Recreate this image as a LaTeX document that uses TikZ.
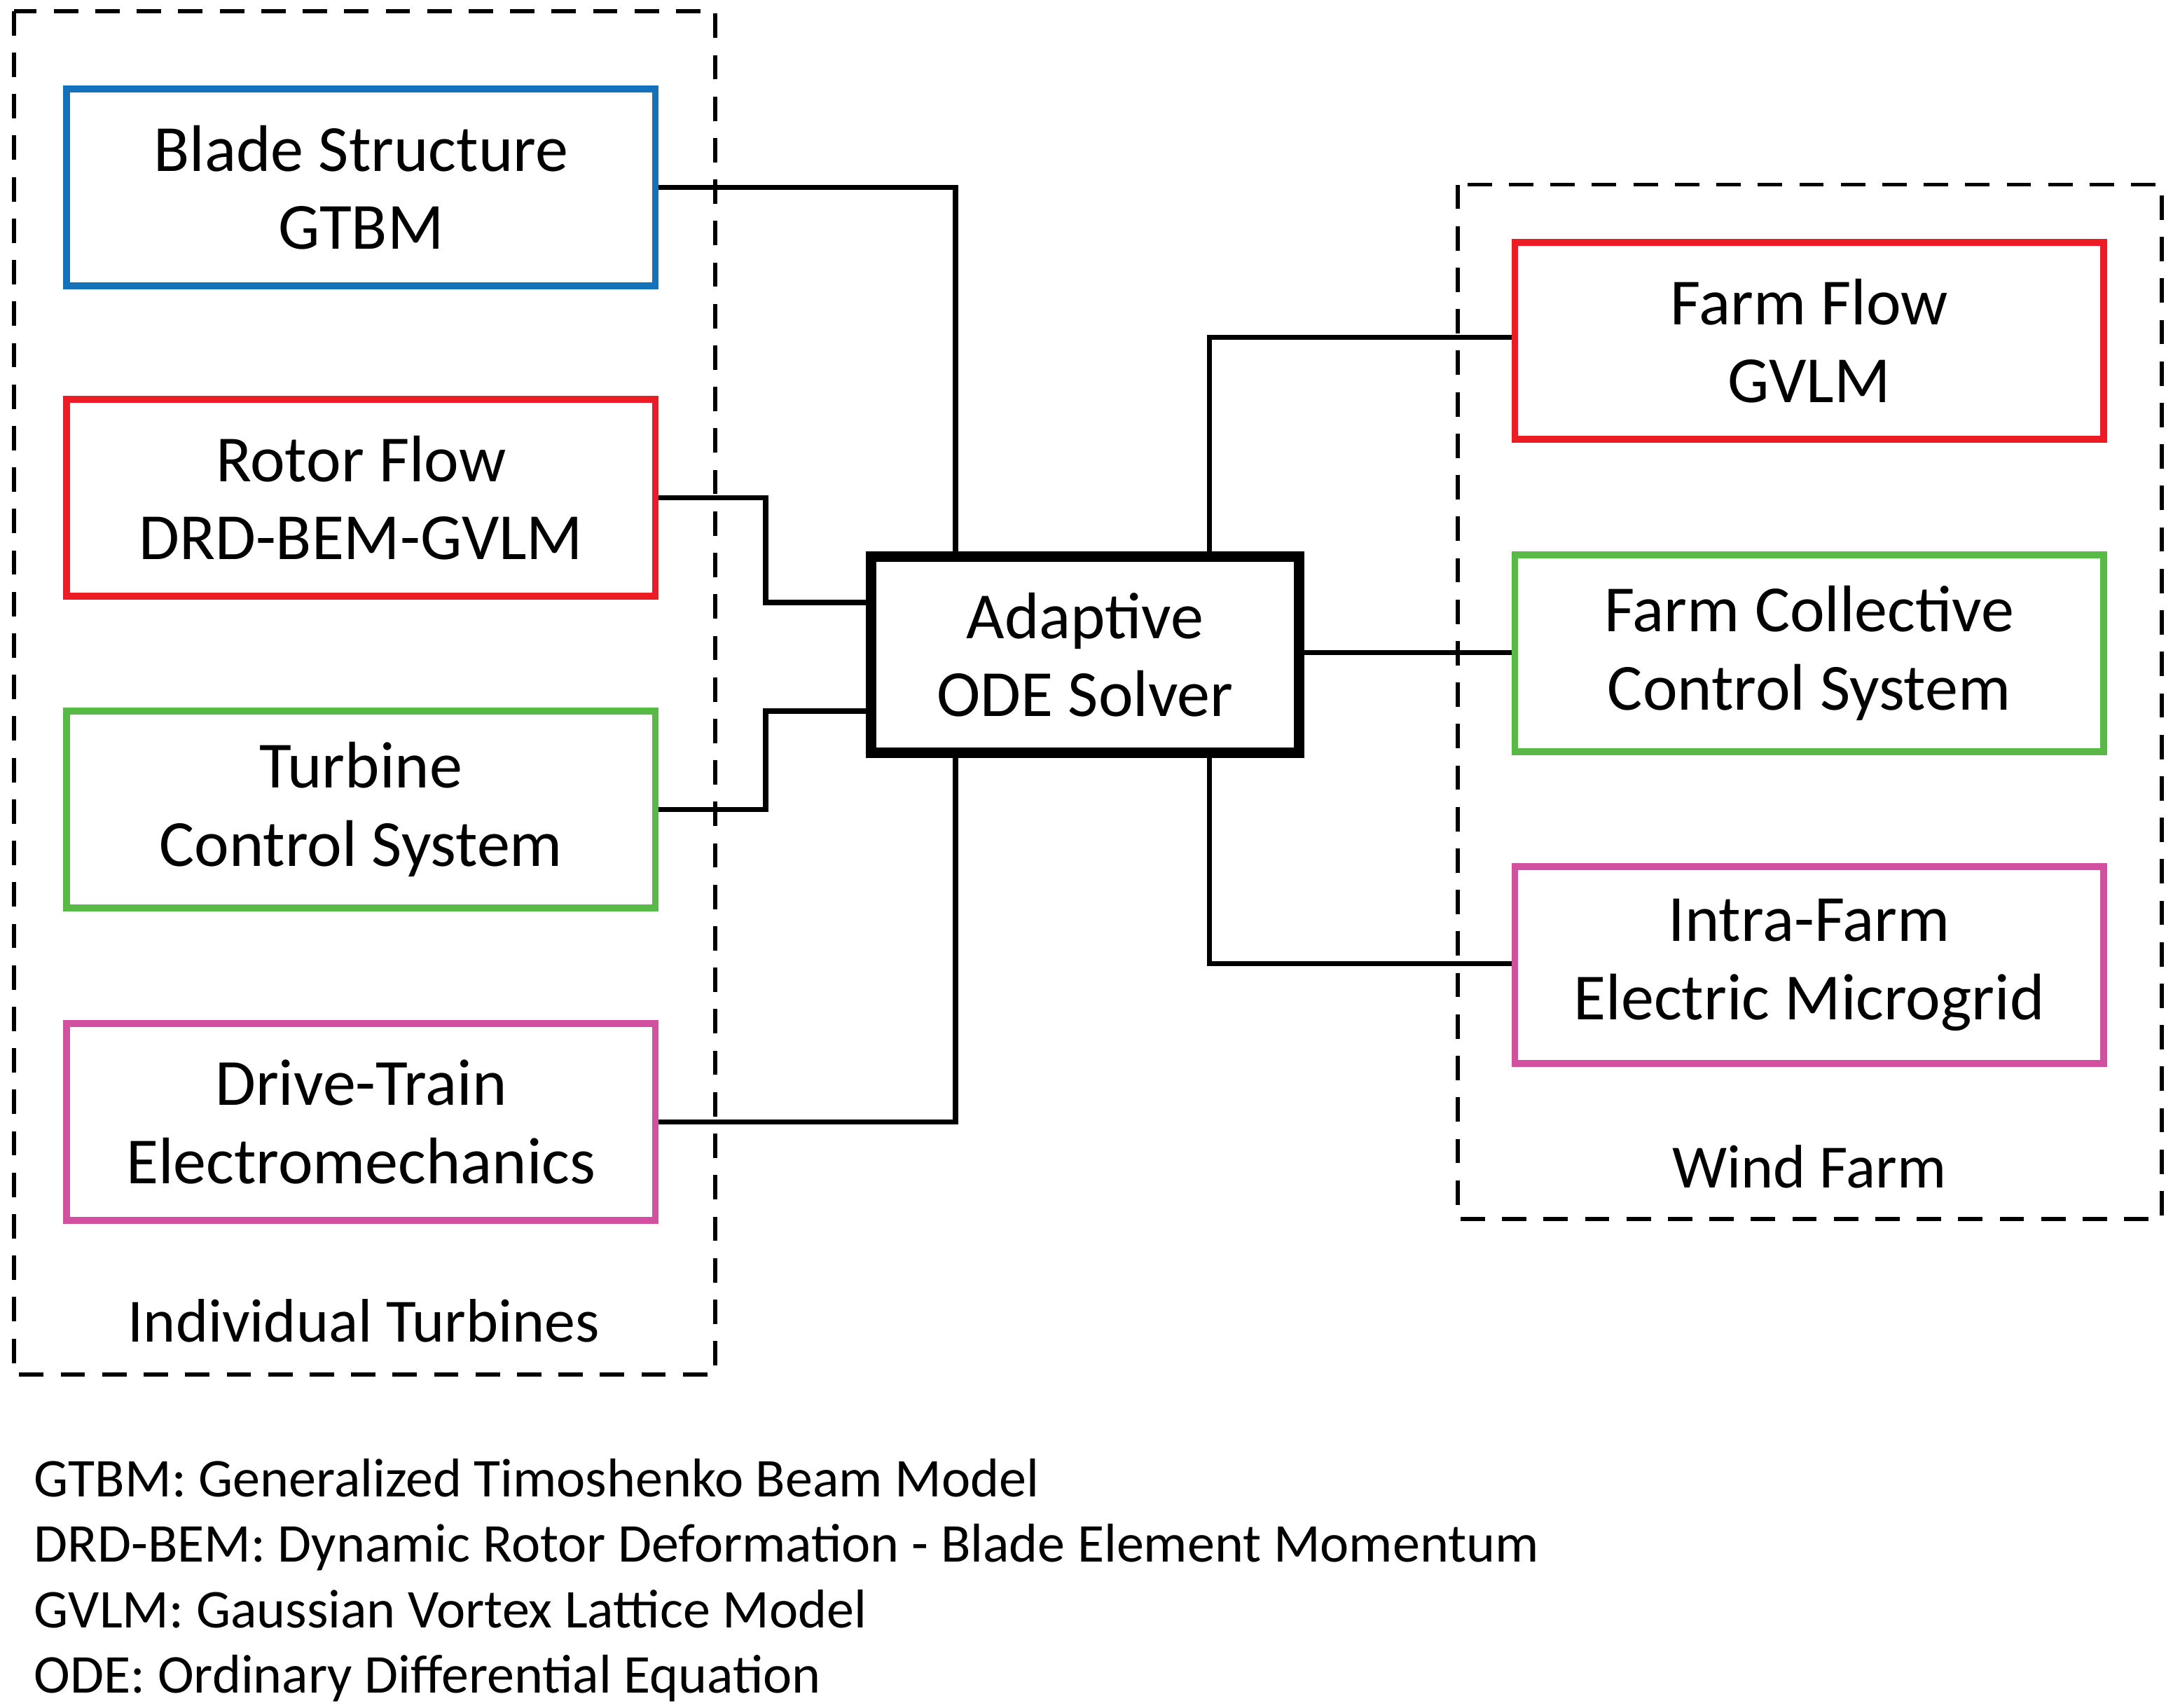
\documentclass[tikz,border=0pt]{standalone}
\usepackage{fontspec}
\setmainfont{Carlito}
\usepackage{xcolor}
\usetikzlibrary{arrows,shapes,backgrounds,fit}
\definecolor{bladeblue}{RGB}{19,114,186}
\definecolor{flowred}{RGB}{237,28,36}
\definecolor{ctrlgreen}{RGB}{88,185,71}
\definecolor{elecpink}{RGB}{210,80,160}
\begin{document}
\begin{tikzpicture}[x=1cm,y=-1cm]
      \tikzstyle{model}=[draw, line width=1.4pt, minimum width=4.24cm, minimum height=1.42cm, align=center, inner sep=0pt, font=\fontsize{13.5}{16}\selectfont]
      \tikzstyle{solver}=[model, line width=2.1pt, minimum width=3.08cm, minimum height=1.41cm]
      \tikzstyle{group}=[draw, thick, dash pattern=on 5pt off 3.5pt]
      \tikzstyle{group_text}=[font=\fontsize{12.6}{15}\selectfont]
      \tikzstyle{link}=[line width=1.1pt]

      \useasboundingbox (0,0) rectangle (15.6,12.3);

      \begin{scope}
        \node [model, draw=bladeblue] (blade) at (2.6,1.35) {Blade Structure\\GTBM};
        \node [model, draw=flowred] (rotor) at (2.6,3.585) {Rotor Flow\\DRD-BEM-GVLM};
        \node [model, draw=ctrlgreen] (turbine) at (2.6,5.83) {Turbine\\Control System};
        \node [model, draw=elecpink] (drive) at (2.6,8.08) {Drive-Train\\Electromechanics};
        \draw [group] (0.1,0.08) rectangle (5.15,9.9);
        \node [group_text] (turbines) at (2.62,9.51) {Individual Turbines};
      \end{scope}

      \begin{scope}
        \node [model, draw=flowred] (farmflow) at (13.03,2.455) {Farm Flow\\GVLM};
        \node [model, draw=ctrlgreen] (farmctrl) at (13.03,4.705) {Farm Collective\\Control System};
        \node [model, draw=elecpink] (grid) at (13.03,6.95) {Intra-Farm\\Electric Microgrid};
        \draw [group] (10.5,1.33) rectangle (15.57,8.78);
        \node [group_text] (farm) at (13.03,8.4) {Wind Farm};
      \end{scope}

      \node [solver] (ode) at (7.815,4.715) {Adaptive\\ODE Solver};

      % connections to the solver
      \draw [link] (blade.east) -| (ode.north -| 6.88,0);
      \draw [link] (rotor.east) -- ++(0.77,0) |- (ode.west |- 0,4.34);
      \draw [link] (turbine.east) -- ++(0.77,0) |- (ode.west |- 0,5.12);
      \draw [link] (drive.east) -| (ode.south -| 6.88,0);
      \draw [link] (ode.north -| 8.71,0) |- (farmflow.west |- 0,2.43);
      \draw [link] (ode.east |- 0,4.7) -- (farmctrl.west |- 0,4.7);
      \draw [link] (ode.south -| 8.71,0) |- (grid.west |- 0,6.94);

      \node [anchor=west, align=left, inner sep=0pt, font=\fontsize{11.2}{13.4}\selectfont] (legend) at (0.24,11.38)
        {GTBM: Generalized Timoshenko Beam Model\\
         DRD-BEM: Dynamic Rotor Deformation - Blade Element Momentum\\
         GVLM: Gaussian Vortex Lattice Model\\
         ODE: Ordinary Differential Equation};
    \end{tikzpicture}
\end{document}
